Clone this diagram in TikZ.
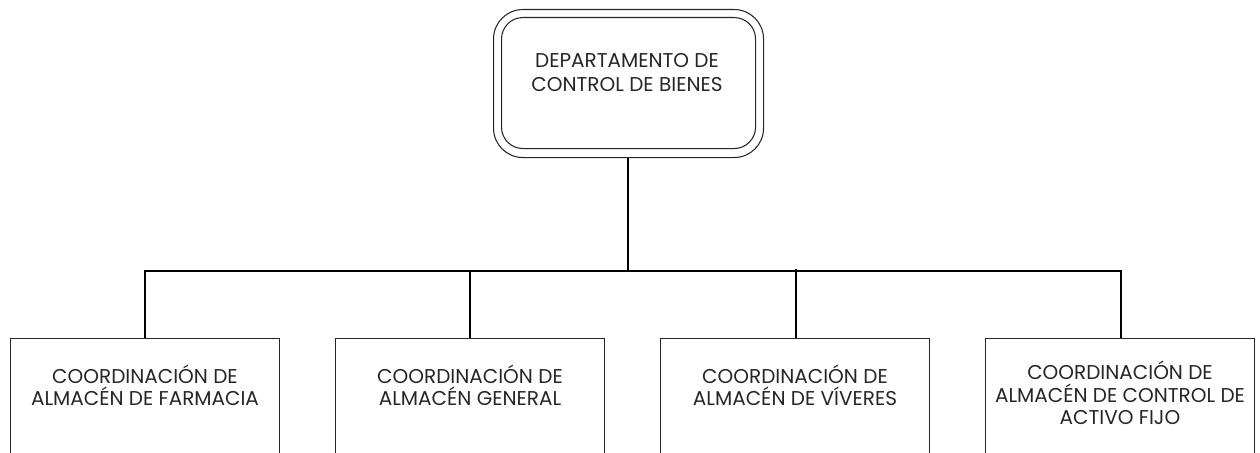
\documentclass[tikz,border=0pt]{standalone}
\usepackage{fontspec}
\setmainfont{Poppins}
\begin{document}
\begin{tikzpicture}[x=0.75pt,y=-0.75pt,
  conn/.style={line width=1.5pt,black},
  unitbox/.style={draw=black!85,line width=0.8pt,rectangle,minimum width=269*0.75pt,minimum height=130*0.75pt,anchor=north west,inner sep=0pt},
  lbl/.style={align=center,font=\fontsize{15}{16.8}\selectfont,inner sep=0pt,text=black!85}]
\useasboundingbox (0,0) rectangle (1260,453);
\clip (0,0) rectangle (1260,453);
% top box
\node[draw=black!85,line width=0.8pt,rounded corners=22pt,minimum width=270*0.75pt,minimum height=148*0.75pt,anchor=north west,inner sep=0pt] (outer) at (493,9) {};
\node[draw=black!85,line width=0.8pt,rounded corners=16pt,minimum width=254*0.75pt,minimum height=131*0.75pt,anchor=north west,inner sep=0pt] (top) at (501,17) {};
\node[lbl,font=\fontsize{15}{18}\selectfont] (toptext) at (627,73) {DEPARTAMENTO DE\\CONTROL DE BIENES};
% bottom boxes
\node[unitbox] (b1) at (10,338) {};
\node[unitbox] (b2) at (335,338) {};
\node[unitbox] (b3) at (660,338) {};
\node[unitbox] (b4) at (985,338) {};
\node[lbl] (t1) at (145,385) {COORDINACIÓN DE\\ALMACÉN DE FARMACIA};
\node[lbl] (t2) at (470,385) {COORDINACIÓN DE\\ALMACÉN GENERAL};
\node[lbl] (t3) at (795,385) {COORDINACIÓN DE\\ALMACÉN DE VÍVERES};
\node[lbl] (t4) at (1120,393) {COORDINACIÓN DE\\ALMACÉN DE CONTROL DE\\ACTIVO FIJO};
% connectors
\coordinate (bus) at (628,271);
\draw[conn] (outer.south -| bus) -- (bus);
\draw[conn] (b1.north -| 145,0) |- (bus) -| (b4.north -| 1121,0);
\draw[conn] (b2.north -| 470,0) -- (470,271);
\draw[conn] (b3.north -| 796,0) -- (796,269);
\end{tikzpicture}
\end{document}
